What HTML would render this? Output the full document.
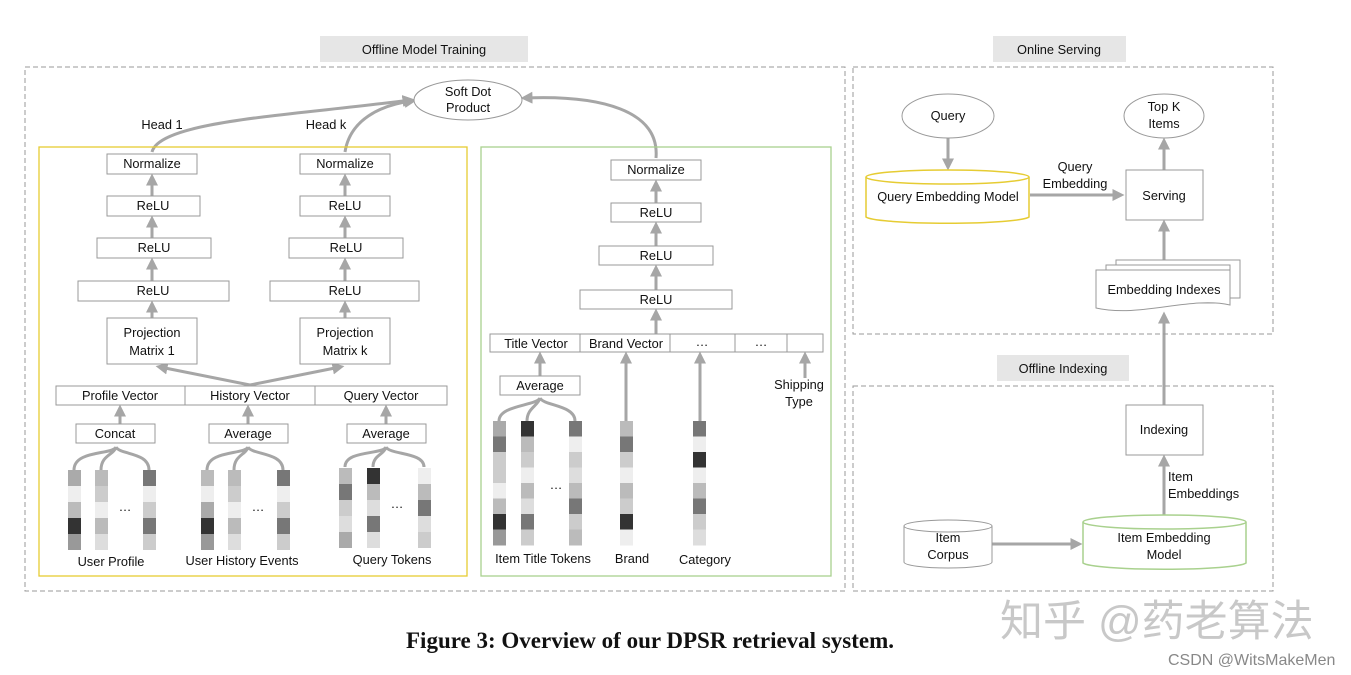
<!DOCTYPE html>
<html><head><meta charset="utf-8"><style>
html,body{margin:0;padding:0;background:#fff;}
svg{display:block;}
text{font-family:"Liberation Sans","Noto Sans CJK SC",sans-serif;font-size:12.8px;fill:#111;}
</style></head><body>
<svg width="1351" height="675" viewBox="0 0 1351 675" xmlns="http://www.w3.org/2000/svg">
<defs>
<marker id="a" markerWidth="4" markerHeight="4" refX="2.5" refY="2" orient="auto" markerUnits="strokeWidth">
<path d="M0,0 L4,2 L0,4 z" fill="#a6a6a6"/></marker>
</defs>
<g fill="none" stroke="#a6a6a6" stroke-width="3" marker-end="url(#a)">
<path d="M152,152 C160,120 300,115 410,100"/>
<path d="M345,152 C350,120 380,105 412,101"/>
<path d="M656,158 C660,110 600,95 525,98"/>
<path d="M152,196 V178"/><path d="M152,238 V220"/><path d="M152,281 V262"/><path d="M152,318 V305"/>
<path d="M345,196 V178"/><path d="M345,238 V220"/><path d="M345,281 V262"/><path d="M345,318 V305"/>
<path d="M250,385 L160,367"/><path d="M250,385 L340,367"/>
<path d="M120,424 V409"/><path d="M248,424 V409"/><path d="M386,424 V409"/>
<path d="M656,203 V184"/><path d="M656,246 V226"/><path d="M656,290 V269"/><path d="M656,334 V313"/>
<path d="M540,376 V356"/><path d="M626,421 V356"/><path d="M700,421 V356"/><path d="M805,378 V356"/>
<path d="M948,138 V166"/><path d="M1030,195 H1120"/><path d="M1164,170 V142"/>
<path d="M1164,262 V224"/><path d="M1164,405 V316"/><path d="M1164,515 V459"/>
<path d="M992,544 H1078"/>
</g>
<g fill="none" stroke="#a6a6a6" stroke-width="3">
<path d="M74,470 C74,450 112,455 116,447 M101,470 C101,455 114,455 116,447 M149,470 C149,452 120,455 116,447"/>
<path d="M207,470 C207,450 244,455 248,447 M234,470 C234,455 246,455 248,447 M283,470 C283,452 252,455 248,447"/>
<path d="M345,467 C345,450 382,455 386,447 M373,467 C373,455 384,455 386,447 M424,467 C424,452 390,455 386,447"/>
<path d="M499,421 C499,405 536,406 540,398 M527,421 C527,408 538,406 540,398 M575,421 C575,405 544,406 540,398"/>
</g>
<rect x="320" y="36" width="208" height="26" fill="#e6e6e6"/><text x="424" y="54" text-anchor="middle">Offline Model Training</text>
<rect x="993" y="36" width="133" height="26" fill="#e6e6e6"/><text x="1059" y="54" text-anchor="middle">Online Serving</text>
<rect x="997" y="355" width="132" height="26" fill="#e6e6e6"/><text x="1063" y="373" text-anchor="middle">Offline Indexing</text>
<g fill="none" stroke="#999" stroke-dasharray="5,3">
<rect x="25" y="67" width="820" height="524"/>
<rect x="853" y="67" width="420" height="267"/>
<rect x="853" y="386" width="420" height="205"/>
</g>
<rect x="39" y="147" width="428" height="429" fill="none" stroke="#e6cc33" stroke-width="1.3"/>
<rect x="481" y="147" width="350" height="429" fill="none" stroke="#a9d18e" stroke-width="1.3"/>
<ellipse cx="468" cy="100" rx="54" ry="20" fill="#fff" stroke="#999"/>
<text x="468" y="96" text-anchor="middle">Soft Dot</text><text x="468" y="112" text-anchor="middle">Product</text>
<text x="162" y="129" text-anchor="middle">Head 1</text><text x="326" y="129" text-anchor="middle">Head k</text>
<g fill="#fff" stroke="#999">
<rect x="107" y="154" width="90" height="20"/><rect x="107" y="196" width="93" height="20"/><rect x="97" y="238" width="114" height="20"/><rect x="78" y="281" width="151" height="20"/><rect x="107" y="318" width="90" height="46"/>
<rect x="300" y="154" width="90" height="20"/><rect x="300" y="196" width="90" height="20"/><rect x="289" y="238" width="114" height="20"/><rect x="270" y="281" width="149" height="20"/><rect x="300" y="318" width="90" height="46"/>
<rect x="56" y="386" width="129" height="19"/><rect x="185" y="386" width="130" height="19"/><rect x="315" y="386" width="132" height="19"/>
<rect x="76" y="424" width="79" height="19"/><rect x="209" y="424" width="79" height="19"/><rect x="347" y="424" width="79" height="19"/>
<rect x="611" y="160" width="90" height="20"/><rect x="611" y="203" width="90" height="19"/><rect x="599" y="246" width="114" height="19"/><rect x="580" y="290" width="152" height="19"/>
<rect x="490" y="334" width="90" height="18"/><rect x="580" y="334" width="90" height="18"/><rect x="670" y="334" width="65" height="18"/><rect x="735" y="334" width="52" height="18"/><rect x="787" y="334" width="36" height="18"/>
<rect x="500" y="376" width="80" height="19"/>
<ellipse cx="948" cy="116" rx="46" ry="22"/><ellipse cx="1164" cy="116" rx="40" ry="22"/>
<rect x="1126" y="170" width="77" height="50"/><rect x="1126" y="405" width="77" height="50"/>
<rect x="1116" y="260" width="124" height="38"/><rect x="1106" y="265" width="124" height="38"/>
<path d="M1096,270 H1230 V305 C1190,296 1140,318 1096,308 Z"/>
<path d="M904,526 V562 A44,6 0 0 0 992,562 V526"/><ellipse cx="948" cy="526" rx="44" ry="6"/>
</g>
<g fill="#fff" stroke="#e6cc33" stroke-width="1.5"><path d="M866,177 V217 A82,7 0 0 0 1029,217 V177"/><ellipse cx="947.5" cy="177" rx="81.5" ry="7"/></g>
<g fill="#fff" stroke="#a9d18e" stroke-width="1.5"><path d="M1083,522 V563 A82,7 0 0 0 1246,563 V522"/><ellipse cx="1164.5" cy="522" rx="81.5" ry="7"/></g>
<g text-anchor="middle">
<text x="152" y="168">Normalize</text><text x="153" y="210">ReLU</text><text x="154" y="252">ReLU</text><text x="153" y="295">ReLU</text><text x="152" y="337">Projection</text><text x="152" y="355">Matrix 1</text>
<text x="345" y="168">Normalize</text><text x="345" y="210">ReLU</text><text x="346" y="252">ReLU</text><text x="345" y="295">ReLU</text><text x="345" y="337">Projection</text><text x="345" y="355">Matrix k</text>
<text x="120" y="400">Profile Vector</text><text x="250" y="400">History Vector</text><text x="381" y="400">Query Vector</text>
<text x="115" y="438">Concat</text><text x="248" y="438">Average</text><text x="386" y="438">Average</text>
<text x="111" y="566">User Profile</text><text x="242" y="565">User History Events</text><text x="392" y="564">Query Tokens</text>
<text x="125" y="511">…</text><text x="258" y="511">…</text><text x="397" y="508">…</text><text x="556" y="489">…</text>
<text x="656" y="174">Normalize</text><text x="656" y="217">ReLU</text><text x="656" y="260">ReLU</text><text x="656" y="304">ReLU</text>
<text x="536" y="348">Title Vector</text><text x="626" y="348">Brand Vector</text><text x="702" y="346">…</text><text x="761" y="346">…</text>
<text x="540" y="390">Average</text><text x="799" y="389">Shipping</text><text x="799" y="406">Type</text>
<text x="543" y="563">Item Title Tokens</text><text x="632" y="563">Brand</text><text x="705" y="564">Category</text>
<text x="948" y="120">Query</text><text x="1164" y="111">Top K</text><text x="1164" y="128">Items</text>
<text x="948" y="201">Query Embedding Model</text><text x="1075" y="171">Query</text><text x="1075" y="188">Embedding</text>
<text x="1164" y="200">Serving</text><text x="1164" y="294">Embedding Indexes</text><text x="1164" y="434">Indexing</text>
<text x="948" y="542">Item</text><text x="948" y="559">Corpus</text><text x="1164" y="542">Item Embedding</text><text x="1164" y="559">Model</text>
</g>
<text x="1168" y="481">Item</text><text x="1168" y="498">Embeddings</text>
<g>
<g transform="translate(68,470)"><rect y="0" width="13" height="16" fill="#aaa"/><rect y="16" width="13" height="16" fill="#eee"/><rect y="32" width="13" height="16" fill="#bbb"/><rect y="48" width="13" height="16" fill="#333"/><rect y="64" width="13" height="16" fill="#999"/></g>
<g transform="translate(95,470)"><rect y="0" width="13" height="16" fill="#bbb"/><rect y="16" width="13" height="16" fill="#ccc"/><rect y="32" width="13" height="16" fill="#eee"/><rect y="48" width="13" height="16" fill="#bbb"/><rect y="64" width="13" height="16" fill="#ddd"/></g>
<g transform="translate(143,470)"><rect y="0" width="13" height="16" fill="#777"/><rect y="16" width="13" height="16" fill="#eee"/><rect y="32" width="13" height="16" fill="#ccc"/><rect y="48" width="13" height="16" fill="#777"/><rect y="64" width="13" height="16" fill="#ccc"/></g>
<g transform="translate(201,470)"><rect y="0" width="13" height="16" fill="#bbb"/><rect y="16" width="13" height="16" fill="#eee"/><rect y="32" width="13" height="16" fill="#aaa"/><rect y="48" width="13" height="16" fill="#333"/><rect y="64" width="13" height="16" fill="#999"/></g>
<g transform="translate(228,470)"><rect y="0" width="13" height="16" fill="#bbb"/><rect y="16" width="13" height="16" fill="#ccc"/><rect y="32" width="13" height="16" fill="#eee"/><rect y="48" width="13" height="16" fill="#bbb"/><rect y="64" width="13" height="16" fill="#ddd"/></g>
<g transform="translate(277,470)"><rect y="0" width="13" height="16" fill="#777"/><rect y="16" width="13" height="16" fill="#eee"/><rect y="32" width="13" height="16" fill="#ccc"/><rect y="48" width="13" height="16" fill="#777"/><rect y="64" width="13" height="16" fill="#ccc"/></g>
<g transform="translate(339,468)"><rect y="0" width="13" height="16" fill="#bbb"/><rect y="16" width="13" height="16" fill="#777"/><rect y="32" width="13" height="16" fill="#ccc"/><rect y="48" width="13" height="16" fill="#ddd"/><rect y="64" width="13" height="16" fill="#aaa"/></g>
<g transform="translate(367,468)"><rect y="0" width="13" height="16" fill="#333"/><rect y="16" width="13" height="16" fill="#bbb"/><rect y="32" width="13" height="16" fill="#ddd"/><rect y="48" width="13" height="16" fill="#777"/><rect y="64" width="13" height="16" fill="#ddd"/></g>
<g transform="translate(418,468)"><rect y="0" width="13" height="16" fill="#eee"/><rect y="16" width="13" height="16" fill="#bbb"/><rect y="32" width="13" height="16" fill="#777"/><rect y="48" width="13" height="16" fill="#ddd"/><rect y="64" width="13" height="16" fill="#ccc"/></g>
<g transform="translate(493,421)"><rect y="0" width="13" height="16" fill="#aaa"/><rect y="15.5" width="13" height="16" fill="#777"/><rect y="31" width="13" height="16" fill="#ccc"/><rect y="46.5" width="13" height="16" fill="#ccc"/><rect y="62" width="13" height="16" fill="#eee"/><rect y="77.5" width="13" height="16" fill="#bbb"/><rect y="93" width="13" height="16" fill="#333"/><rect y="108.5" width="13" height="16" fill="#999"/></g>
<g transform="translate(521,421)"><rect y="0" width="13" height="16" fill="#333"/><rect y="15.5" width="13" height="16" fill="#bbb"/><rect y="31" width="13" height="16" fill="#ccc"/><rect y="46.5" width="13" height="16" fill="#eee"/><rect y="62" width="13" height="16" fill="#bbb"/><rect y="77.5" width="13" height="16" fill="#ddd"/><rect y="93" width="13" height="16" fill="#777"/><rect y="108.5" width="13" height="16" fill="#ccc"/></g>
<g transform="translate(569,421)"><rect y="0" width="13" height="16" fill="#777"/><rect y="15.5" width="13" height="16" fill="#eee"/><rect y="31" width="13" height="16" fill="#ccc"/><rect y="46.5" width="13" height="16" fill="#ddd"/><rect y="62" width="13" height="16" fill="#bbb"/><rect y="77.5" width="13" height="16" fill="#777"/><rect y="93" width="13" height="16" fill="#ccc"/><rect y="108.5" width="13" height="16" fill="#bbb"/></g>
<g transform="translate(620,421)"><rect y="0" width="13" height="16" fill="#bbb"/><rect y="15.5" width="13" height="16" fill="#777"/><rect y="31" width="13" height="16" fill="#ccc"/><rect y="46.5" width="13" height="16" fill="#eee"/><rect y="62" width="13" height="16" fill="#bbb"/><rect y="77.5" width="13" height="16" fill="#ccc"/><rect y="93" width="13" height="16" fill="#333"/><rect y="108.5" width="13" height="16" fill="#eee"/></g>
<g transform="translate(693,421)"><rect y="0" width="13" height="16" fill="#777"/><rect y="15.5" width="13" height="16" fill="#eee"/><rect y="31" width="13" height="16" fill="#333"/><rect y="46.5" width="13" height="16" fill="#eee"/><rect y="62" width="13" height="16" fill="#bbb"/><rect y="77.5" width="13" height="16" fill="#777"/><rect y="93" width="13" height="16" fill="#ccc"/><rect y="108.5" width="13" height="16" fill="#ddd"/></g>
</g>
<text x="650" y="648" text-anchor="middle" style="font-family:'Liberation Serif',serif;font-weight:bold;font-size:23px;">Figure 3: Overview of our DPSR retrieval system.</text>
<text x="1000" y="636" style="font-size:43px;fill:#c8c8c8;">知乎 @药老算法</text>
<text x="1168" y="665" style="font-size:16px;fill:#888;">CSDN @WitsMakeMen</text>
</svg>
</body></html>
